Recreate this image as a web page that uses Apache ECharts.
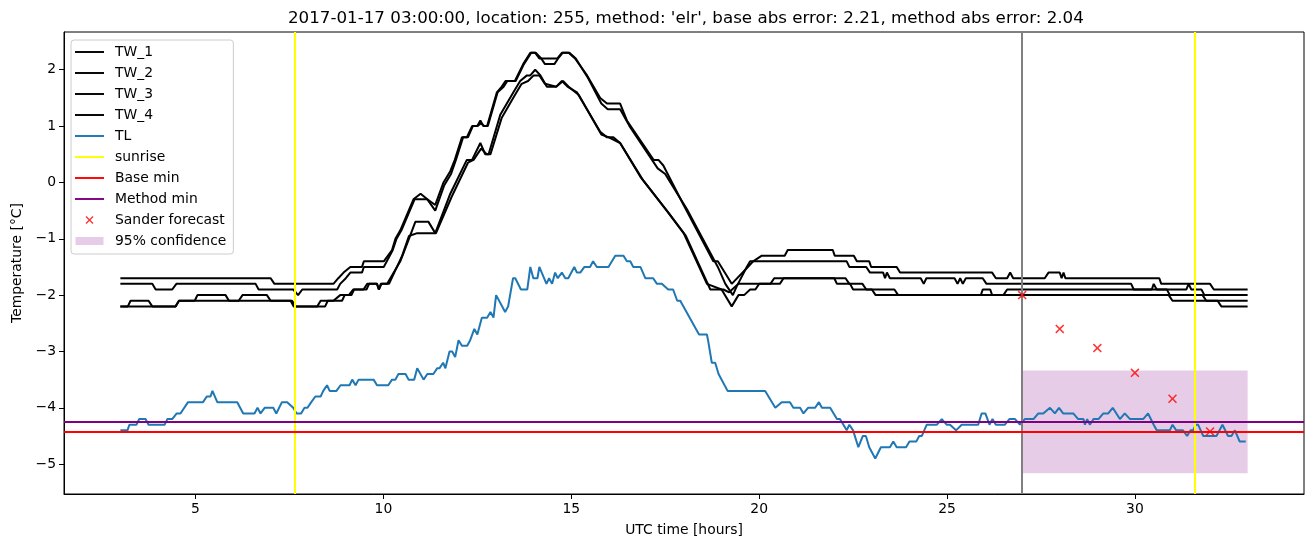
<!DOCTYPE html>
<html>
<head>
<meta charset="utf-8">
<script src="https://cdn.jsdelivr.net/npm/echarts@6/dist/echarts.min.js"></script>
<style>
html,body{margin:0;padding:0;background:#fff;}
#chart{width:1313px;height:547px;}
</style>
</head>
<body>
<div id="chart"></div>
<script>
// ---------- data (hours, °C) ----------
const TW_1 = [[3.0,-1.7],[7.0,-1.7],[7.1,-1.8],[8.67,-1.8],[8.8,-1.7],[8.94,-1.6],[9.12,-1.5],[9.43,-1.5],[9.48,-1.4],[10.01,-1.4],[10.23,-1.2],[10.32,-1.0],[10.45,-0.85],[10.8,-0.3],[10.99,-0.2],[11.17,-0.3],[11.38,-0.4],[11.6,0.0],[11.78,0.2],[11.9,0.4],[12.09,0.8],[12.22,0.8],[12.36,1.0],[12.5,1.0],[12.58,1.1],[12.66,1.0],[12.76,1.0],[13.02,1.6],[13.15,1.7],[13.25,1.8],[13.5,1.8],[13.72,2.1],[13.91,2.3],[14.04,2.3],[14.15,2.2],[14.63,2.2],[14.75,2.3],[14.93,2.3],[15.1,2.2],[15.42,1.9],[15.77,1.5],[15.95,1.4],[16.3,1.4],[16.48,1.1],[17.19,0.4],[17.32,0.4],[17.45,0.3],[17.99,-0.4],[18.78,-1.4],[18.9,-1.4],[19.27,-1.8],[19.7,-1.5],[19.84,-1.4],[20.07,-1.3],[20.68,-1.3],[20.76,-1.2],[21.96,-1.2],[22.01,-1.3],[22.52,-1.3],[22.6,-1.4],[22.93,-1.4],[22.98,-1.5],[23.66,-1.5],[23.75,-1.6],[26.2,-1.6],[26.3,-1.7],[26.6,-1.7],[26.68,-1.6],[26.76,-1.7],[27.6,-1.7],[27.7,-1.6],[28.0,-1.6],[28.05,-1.7],[28.1,-1.6],[28.15,-1.7],[30.65,-1.7],[30.7,-1.8],[32.0,-1.8],[32.1,-1.9],[33.0,-1.9]];
const TW_2 = [[3.0,-1.8],[3.85,-1.8],[3.94,-1.9],[4.38,-1.9],[4.49,-1.8],[6.6,-1.8],[6.68,-1.9],[7.6,-1.9],[7.73,-2.0],[7.84,-1.9],[8.77,-1.9],[8.85,-1.8],[9.0,-1.7],[9.12,-1.6],[9.43,-1.6],[9.48,-1.5],[10.01,-1.5],[10.25,-1.2],[10.35,-1.0],[10.48,-0.85],[10.83,-0.3],[11.17,-0.3],[11.38,-0.5],[11.62,-0.05],[11.8,0.15],[11.93,0.4],[12.12,0.8],[12.25,0.8],[12.38,1.0],[12.5,1.0],[12.6,1.05],[12.68,1.0],[12.78,1.0],[13.04,1.6],[13.2,1.7],[13.3,1.8],[13.52,1.8],[13.74,2.1],[13.93,2.3],[14.06,2.3],[14.2,2.2],[14.3,2.1],[14.55,2.1],[14.65,2.2],[14.77,2.3],[14.95,2.3],[15.12,2.2],[15.45,1.85],[15.8,1.4],[15.97,1.3],[16.3,1.3],[16.55,1.0],[17.3,0.25],[17.5,0.15],[18.1,-0.5],[18.9,-1.5],[19.1,-1.8],[19.3,-2.0],[19.4,-1.85],[19.67,-1.5],[19.76,-1.4],[22.33,-1.4],[22.4,-1.5],[22.85,-1.5],[22.95,-1.6],[23.3,-1.6],[23.35,-1.7],[23.4,-1.6],[23.48,-1.7],[24.3,-1.7],[24.38,-1.8],[24.45,-1.7],[25.2,-1.7],[25.28,-1.8],[25.35,-1.7],[25.42,-1.8],[25.5,-1.7],[25.95,-1.7],[26.05,-1.8],[29.9,-1.8],[29.97,-1.9],[30.45,-1.9],[30.5,-1.8],[30.58,-1.9],[31.37,-1.9],[31.43,-1.8],[31.5,-1.9],[31.77,-1.9],[31.85,-2.0],[33.0,-2.0]];
const TW_3 = [[3.0,-2.2],[3.2,-2.2],[3.27,-2.1],[3.75,-2.1],[3.85,-2.2],[4.47,-2.2],[4.56,-2.1],[4.98,-2.1],[5.05,-2.0],[5.8,-2.0],[5.89,-2.1],[6.15,-2.1],[6.25,-2.0],[6.9,-2.0],[7.0,-2.1],[7.53,-2.1],[7.61,-2.2],[8.24,-2.2],[8.33,-2.1],[8.67,-2.1],[8.85,-2.0],[9.08,-2.0],[9.2,-1.9],[9.47,-1.9],[9.57,-1.8],[9.83,-1.8],[9.88,-1.9],[9.93,-1.8],[10.1,-1.8],[10.45,-1.4],[10.68,-1.0],[10.85,-0.7],[11.2,-0.7],[11.38,-0.9],[11.78,-0.2],[12.22,0.4],[12.36,0.4],[12.58,0.7],[12.71,0.5],[12.8,0.5],[13.11,1.2],[13.46,1.6],[13.64,1.8],[13.82,1.9],[13.91,1.9],[14.04,2.0],[14.18,1.9],[14.35,1.7],[14.6,1.7],[14.75,1.8],[14.9,1.7],[15.15,1.6],[15.77,0.9],[15.95,0.8],[16.12,0.8],[16.3,0.7],[16.84,0.1],[17.54,-0.5],[17.99,-0.9],[18.61,-1.8],[19.0,-1.9],[19.27,-2.2],[19.45,-2.0],[19.6,-2.0],[19.76,-1.9],[19.9,-1.9],[20.0,-1.8],[20.3,-1.8],[20.4,-1.7],[22.0,-1.7],[22.07,-1.8],[22.42,-1.8],[22.5,-1.9],[23.0,-1.9],[23.1,-2.0],[25.9,-2.0],[25.95,-1.9],[26.15,-1.9],[26.2,-2.0],[26.5,-2.0],[26.6,-1.9],[30.85,-1.9],[30.93,-2.0],[31.8,-2.0],[31.9,-2.1],[33.0,-2.1]];
const TW_4 = [[3.0,-2.2],[4.47,-2.2],[4.56,-2.1],[7.57,-2.1],[7.66,-2.2],[8.45,-2.2],[8.52,-2.1],[8.9,-2.1],[8.97,-2.0],[9.15,-2.0],[9.22,-1.9],[9.55,-1.9],[9.62,-1.8],[9.83,-1.8],[9.88,-1.9],[9.95,-1.8],[10.15,-1.8],[10.5,-1.3],[10.68,-0.95],[10.9,-0.9],[11.4,-0.9],[11.82,-0.25],[12.25,0.35],[12.4,0.4],[12.6,0.6],[12.75,0.5],[12.85,0.5],[13.15,1.15],[13.5,1.55],[13.68,1.75],[13.85,1.8],[14.0,1.9],[14.15,1.9],[14.3,1.75],[14.6,1.7],[14.78,1.8],[14.93,1.7],[15.2,1.55],[15.8,0.85],[16.0,0.8],[16.3,0.7],[16.9,0.05],[17.6,-0.55],[18.05,-0.95],[18.7,-1.9],[19.05,-1.9],[19.2,-1.95],[19.45,-1.8],[20.55,-1.8],[20.65,-1.7],[22.3,-1.7],[22.4,-1.8],[22.75,-1.8],[22.85,-1.9],[23.6,-1.9],[23.7,-2.0],[30.9,-2.0],[31.0,-2.1],[32.2,-2.1],[32.3,-2.2],[33.0,-2.2]];
const TL = [[3.0,-4.4],[3.19,-4.4],[3.24,-4.3],[3.43,-4.3],[3.5,-4.2],[3.67,-4.2],[3.75,-4.3],[4.18,-4.3],[4.25,-4.2],[4.38,-4.2],[4.5,-4.1],[4.6,-4.1],[4.8,-3.9],[5.2,-3.9],[5.3,-3.8],[5.4,-3.8],[5.45,-3.7],[5.58,-3.9],[6.11,-3.9],[6.27,-4.1],[6.57,-4.1],[6.65,-4.0],[6.73,-4.1],[6.84,-4.0],[7.07,-4.0],[7.15,-4.1],[7.3,-3.9],[7.44,-3.9],[7.6,-4.0],[7.69,-4.1],[7.81,-4.1],[7.9,-4.0],[7.98,-4.0],[8.08,-3.9],[8.19,-3.8],[8.33,-3.8],[8.4,-3.7],[8.5,-3.6],[8.57,-3.7],[8.75,-3.7],[8.86,-3.6],[9.1,-3.6],[9.17,-3.5],[9.26,-3.6],[9.34,-3.5],[9.74,-3.5],[9.83,-3.6],[10.13,-3.6],[10.23,-3.5],[10.32,-3.5],[10.4,-3.4],[10.59,-3.4],[10.67,-3.5],[10.82,-3.5],[10.9,-3.3],[11.07,-3.5],[11.17,-3.4],[11.33,-3.4],[11.43,-3.3],[11.49,-3.3],[11.59,-3.2],[11.65,-3.3],[11.76,-3.0],[11.83,-3.0],[11.91,-3.1],[12.0,-2.8],[12.09,-2.9],[12.23,-2.9],[12.31,-2.8],[12.42,-2.6],[12.5,-2.7],[12.62,-2.4],[12.76,-2.4],[12.85,-2.3],[12.93,-2.4],[13.0,-2.0],[13.24,-2.3],[13.32,-2.2],[13.45,-1.7],[13.51,-1.7],[13.66,-1.9],[13.83,-1.9],[13.91,-1.5],[13.99,-1.7],[14.1,-1.7],[14.15,-1.5],[14.34,-1.8],[14.41,-1.7],[14.49,-1.8],[14.57,-1.6],[14.64,-1.7],[14.75,-1.6],[14.84,-1.7],[14.92,-1.7],[15.08,-1.5],[15.15,-1.6],[15.24,-1.6],[15.35,-1.5],[15.5,-1.5],[15.58,-1.4],[15.68,-1.5],[15.99,-1.5],[16.17,-1.3],[16.39,-1.3],[16.48,-1.4],[16.57,-1.4],[16.65,-1.5],[16.84,-1.5],[16.97,-1.7],[17.18,-1.7],[17.28,-1.8],[17.41,-1.8],[17.58,-1.9],[17.71,-1.9],[17.82,-2.1],[17.9,-2.1],[18.4,-2.7],[18.61,-2.7],[18.64,-2.8],[18.74,-3.2],[18.83,-3.2],[18.92,-3.4],[19.16,-3.7],[20.16,-3.7],[20.43,-4.0],[20.6,-3.9],[20.82,-3.9],[20.91,-4.0],[21.09,-4.0],[21.18,-4.1],[21.3,-4.0],[21.49,-4.0],[21.59,-3.9],[21.67,-4.0],[21.89,-4.0],[22.07,-4.2],[22.15,-4.2],[22.33,-4.4],[22.4,-4.3],[22.5,-4.4],[22.64,-4.7],[22.76,-4.5],[22.84,-4.5],[22.93,-4.7],[23.09,-4.9],[23.24,-4.7],[23.48,-4.7],[23.57,-4.6],[23.66,-4.7],[23.91,-4.7],[24.0,-4.6],[24.18,-4.6],[24.26,-4.5],[24.33,-4.5],[24.46,-4.3],[24.73,-4.3],[24.86,-4.2],[24.99,-4.3],[25.08,-4.3],[25.24,-4.4],[25.39,-4.3],[25.83,-4.3],[25.92,-4.1],[26.02,-4.1],[26.13,-4.3],[26.21,-4.2],[26.3,-4.3],[26.54,-4.3],[26.66,-4.2],[26.81,-4.2],[26.94,-4.3],[27.07,-4.2],[27.3,-4.2],[27.43,-4.1],[27.56,-4.1],[27.74,-4.0],[27.87,-4.1],[27.98,-4.0],[28.09,-4.1],[28.36,-4.1],[28.49,-4.2],[28.63,-4.2],[28.67,-4.3],[28.73,-4.2],[28.8,-4.3],[28.9,-4.2],[29.03,-4.2],[29.16,-4.1],[29.29,-4.1],[29.41,-4.0],[29.6,-4.2],[29.73,-4.1],[29.87,-4.2],[30.22,-4.2],[30.35,-4.1],[30.5,-4.3],[30.58,-4.4],[30.93,-4.4],[31.0,-4.3],[31.1,-4.4],[31.28,-4.4],[31.39,-4.5],[31.48,-4.4],[31.55,-4.4],[31.62,-4.3],[31.68,-4.3],[31.82,-4.5],[32.17,-4.5],[32.33,-4.3],[32.48,-4.5],[32.57,-4.5],[32.66,-4.4],[32.79,-4.6],[32.95,-4.6]];
const sunriseHours = [7.63, 31.6];
const forecastStartHour = 27.0;
const baseMin = -4.42;
const methodMin = -4.25;
const sanderHours = [27, 28, 29, 30, 31, 32];
const sanderValues = [-2.0, -2.6, -2.94, -3.38, -3.84, -4.42];
const confHours = [27.0, 33.0];
const confRange = [-5.16, -3.34];
const xTicks = [5, 10, 15, 20, 25, 30];
const yTicks = [-5, -4, -3, -2, -1, 0, 1, 2];
const xRange = [1.5, 34.5];
const yRange = [-5.53, 2.67];
const titleText = "2017-01-17 03:00:00, location: 255, method: 'elr', base abs error: 2.21, method abs error: 2.04";

// ---------- chart ----------
const FONT = 'DejaVu Sans';
const FS = 13.9;
const LINE_ICON = 'path://M0,0H30V2H0Z';
const X_ICON = 'path://M0,1.2L1.2,0L5,3.8L8.8,0L10,1.2L6.2,5L10,8.8L8.8,10L5,6.2L1.2,10L0,8.8L3.8,5Z';
const RECT_ICON = 'path://M0,0H28V8H0Z';
const CONF_COLOR = 'rgba(128,0,128,0.2)';
const fmt = v => (v < 0 ? '\u2212' + Math.abs(v) : String(v));

function twSeries(name, data) {
  return {
    name, type: 'line', data, showSymbol: false, symbol: 'none', color: '#000000',
    lineStyle: { color: '#000000', width: 2 }, z: 3, silent: true, animation: false
  };
}
function vLineSeries(name, color, values, z) {
  return {
    name, type: 'line', data: [], color, z, silent: true, animation: false,
    markLine: {
      silent: true, symbol: ['none', 'none'], label: { show: false }, animation: false,
      lineStyle: { color, width: 2, type: 'solid' }, emphasis: { disabled: true },
      data: values.map(v => ({ xAxis: v }))
    }
  };
}
function hLineSeries(name, color, value, z) {
  return {
    name, type: 'line', data: [], color, z, silent: true, animation: false,
    markLine: {
      silent: true, symbol: ['none', 'none'], label: { show: false }, animation: false,
      lineStyle: { color, width: 2, type: 'solid' }, emphasis: { disabled: true },
      data: [{ yAxis: value }]
    }
  };
}

const chart = echarts.init(document.getElementById('chart'), null, { renderer: 'canvas' });
chart.setOption({
  animation: false,
  backgroundColor: '#ffffff',
  textStyle: { fontFamily: FONT },
  title: {
    text: titleText, left: 288, top: 10, padding: 0,
    textStyle: { fontFamily: FONT, fontSize: 16.7, fontWeight: 'normal', color: '#000' }
  },
  grid: { left: 64, right: 9, top: 32, bottom: 53, show: true, borderColor: '#000', borderWidth: 1, backgroundColor: 'transparent' },
  xAxis: {
    type: 'value', min: xRange[0], max: xRange[1],
    name: 'UTC time [hours]', nameLocation: 'middle', nameGap: 29,
    nameTextStyle: { fontFamily: FONT, fontSize: FS, color: '#000' },
    axisLine: { show: true, onZero: false, lineStyle: { color: '#000', width: 1 } },
    axisTick: { show: true, inside: false, length: 5, lineStyle: { color: '#000', width: 1 }, customValues: xTicks },
    axisLabel: { show: true, margin: 8, fontFamily: FONT, fontSize: FS, color: '#000', customValues: xTicks, formatter: fmt },
    splitLine: { show: false }
  },
  yAxis: {
    type: 'value', min: yRange[0], max: yRange[1],
    name: 'Temperature [°C]', nameLocation: 'middle', nameGap: 40, nameRotate: 90,
    nameTextStyle: { fontFamily: FONT, fontSize: FS, color: '#000' },
    axisLine: { show: true, onZero: false, lineStyle: { color: '#000', width: 1 } },
    axisTick: { show: true, inside: false, length: 5, lineStyle: { color: '#000', width: 1 }, customValues: yTicks },
    axisLabel: { show: true, margin: 8, fontFamily: FONT, fontSize: FS, color: '#000', customValues: yTicks, formatter: fmt },
    splitLine: { show: false }
  },
  legend: {
    orient: 'vertical', left: 71, top: 40,
    padding: [5, 7, 6, 4], itemGap: 7, itemWidth: 29, itemHeight: 8,
    backgroundColor: 'rgba(255,255,255,0.8)', borderColor: '#cccccc', borderWidth: 1, borderRadius: 3,
    selectedMode: false,
    itemStyle: { borderWidth: 0 },
    textStyle: { fontFamily: FONT, fontSize: FS, color: '#000', lineHeight: 14, padding: [0, 0, 0, 6] },
    data: [
      { name: 'TW_1', icon: LINE_ICON, itemStyle: { color: '#000000' } },
      { name: 'TW_2', icon: LINE_ICON, itemStyle: { color: '#000000' } },
      { name: 'TW_3', icon: LINE_ICON, itemStyle: { color: '#000000' } },
      { name: 'TW_4', icon: LINE_ICON, itemStyle: { color: '#000000' } },
      { name: 'TL', icon: LINE_ICON, itemStyle: { color: '#1f77b4' } },
      { name: 'sunrise', icon: LINE_ICON, itemStyle: { color: '#ffff00' } },
      { name: 'Base min', icon: LINE_ICON, itemStyle: { color: '#ff0000' } },
      { name: 'Method min', icon: LINE_ICON, itemStyle: { color: '#800080' } },
      { name: 'Sander forecast', icon: X_ICON, itemStyle: { color: '#ff0000' } },
      { name: '95% confidence', icon: RECT_ICON, itemStyle: { color: CONF_COLOR } }
    ]
  },
  series: [
    {
      name: '95% confidence', type: 'line', data: [], color: CONF_COLOR, z: 1, silent: true, animation: false,
      markArea: {
        silent: true, animation: false, itemStyle: { color: CONF_COLOR }, label: { show: false },
        data: [[{ xAxis: confHours[0], yAxis: confRange[1] }, { xAxis: confHours[1], yAxis: confRange[0] }]]
      }
    },
    twSeries('TW_1', TW_1),
    twSeries('TW_2', TW_2),
    twSeries('TW_3', TW_3),
    twSeries('TW_4', TW_4),
    {
      name: 'TL', type: 'line', data: TL, showSymbol: false, symbol: 'none', color: '#1f77b4',
      lineStyle: { color: '#1f77b4', width: 2 }, z: 4, silent: true, animation: false
    },
    vLineSeries('sunrise', '#ffff00', sunriseHours, 5),
    vLineSeries('forecast start', '#808080', [forecastStartHour], 5),
    hLineSeries('Base min', '#ff0000', baseMin, 6),
    hLineSeries('Method min', '#800080', methodMin, 7),
    {
      name: 'Sander forecast', type: 'scatter', symbol: X_ICON, symbolSize: 9, color: '#ff0000',
      itemStyle: { color: '#ff0000' }, z: 8, silent: true, animation: false,
      data: sanderHours.map((h, i) => [h, sanderValues[i]])
    }
  ]
});
</script>
</body>
</html>
